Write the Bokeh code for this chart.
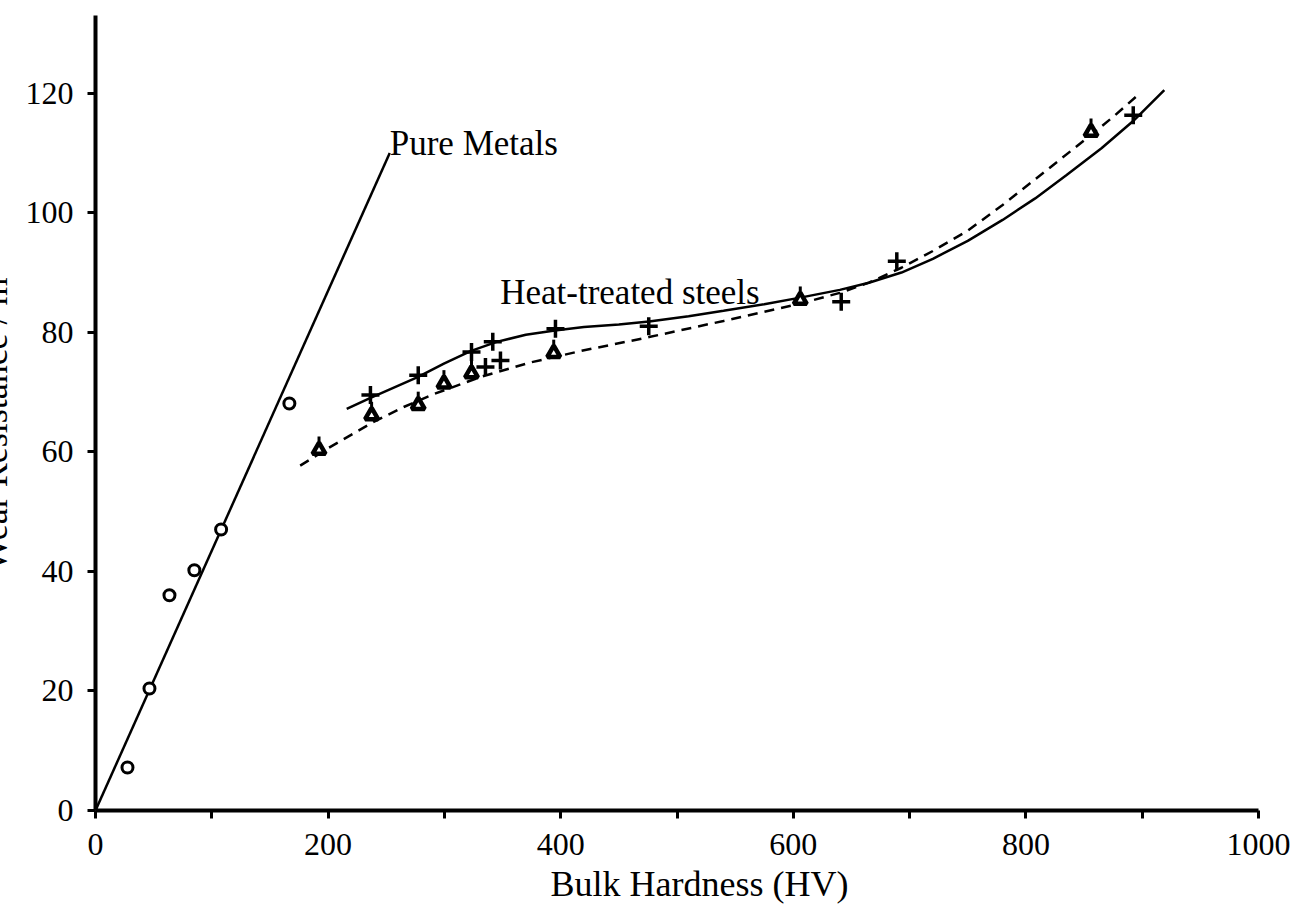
import math
from bokeh.plotting import figure
from bokeh.models import Range1d, Label, FixedTicker
from bokeh.embed import file_html
from bokeh.resources import INLINE

# ---- data ----
metal_x = [27.5, 46.4, 63.6, 85, 108, 166.7]
metal_y = [7.2, 20.4, 36.0, 40.2, 47.0, 68.1]

metal_fit_x = [0, 253]
metal_fit_y = [0, 110]

plus_x = [236.4, 277.5, 323.3, 341.6, 335.3, 348.2, 395.5, 475.7, 641.2, 689, 892.3]
plus_y = [69.5, 72.8, 76.7, 78.4, 74.2, 75.3, 80.6, 81.0, 85.1, 91.9, 116.3]

tri_x = [192.2, 237.4, 277.5, 299.6, 323.3, 394, 606, 856]
tri_y = [60.3, 66.1, 67.8, 71.4, 73.1, 76.5, 85.4, 113.5]

solid_x = [216, 236, 257, 277, 300, 323, 345, 370, 395, 420, 450, 476, 510, 540, 575,
           606, 640, 665, 693, 720, 750, 780, 808, 835, 865, 892, 919]
solid_y = [67.2, 69.0, 70.8, 72.5, 74.8, 76.9, 78.4, 79.6, 80.3, 80.9, 81.3, 81.8, 82.7, 83.6, 84.7,
           85.8, 87.1, 88.3, 90.0, 92.3, 95.3, 98.8, 102.4, 106.3, 110.8, 115.3, 120.5]

dash_x = [176, 200, 238, 265, 290, 332, 375, 418, 476, 540, 606, 640, 665, 693, 720,
          750, 780, 808, 830, 854, 876, 897]
dash_y = [57.7, 60.6, 64.9, 67.5, 69.6, 72.6, 75.0, 76.9, 79.2, 81.9, 84.8, 86.6, 88.3, 90.8, 93.6,
          97.0, 101.3, 105.6, 109.0, 112.7, 116.2, 119.8]

x_ticks = [0, 100, 200, 300, 400, 500, 600, 700, 800, 900, 1000]
x_labels = {0: "0", 200: "200", 400: "400", 600: "600", 800: "800", 1000: "1000"}
y_ticks = [0, 20, 40, 60, 80, 100, 120]

FONT = "Liberation Serif"
SHIFT = 30  # part of the canvas hidden beyond the left page edge

p = figure(width=1306 + SHIFT, height=906, output_backend="svg", toolbar_location=None,
           x_range=Range1d(0, 1000), y_range=Range1d(0, 133),
           min_border_left=95 + SHIFT, min_border_right=48, min_border_top=15,
           min_border_bottom=96, margin=(0, 0, 0, -SHIFT))
p.outline_line_color = None
p.grid.grid_line_color = None
p.background_fill_color = "white"
p.border_fill_color = "white"

for ax in (p.xaxis[0], p.yaxis[0]):
    ax.axis_line_width = 4
    ax.axis_line_color = "black"
    ax.major_tick_line_width = 3
    ax.major_tick_line_color = "black"
    ax.major_tick_out = 8
    ax.major_tick_in = 0
    ax.minor_tick_line_color = None
    ax.major_label_text_font = FONT
    ax.major_label_text_font_size = "32px"
    ax.major_label_text_color = "black"
    ax.axis_label_text_font = FONT
    ax.axis_label_text_font_size = "36px"
    ax.axis_label_text_font_style = "normal"
    ax.axis_label_text_color = "black"

p.xaxis[0].ticker = FixedTicker(ticks=x_ticks)
overrides = {}
for t in x_ticks:
    overrides[t] = x_labels.get(t, "")
p.xaxis[0].major_label_overrides = overrides
p.xaxis[0].major_label_standoff = 15
p.xaxis[0].axis_label = "\u2003\u2005Bulk Hardness (HV)"
p.xaxis[0].axis_label_standoff = 6

p.yaxis[0].ticker = FixedTicker(ticks=y_ticks)
p.yaxis[0].major_label_standoff = 14
p.yaxis[0].axis_label = "Wear Resistance / m\u207b\u00b3"
p.yaxis[0].axis_label_standoff = 8

# lines
p.line(metal_fit_x, metal_fit_y, line_color="black", line_width=2.5)
p.line(solid_x, solid_y, line_color="black", line_width=2.5)
p.line(dash_x, dash_y, line_color="black", line_width=2.5, line_dash="10 7")

# markers
p.scatter(metal_x, metal_y, marker="circle", size=11, line_width=3,
          line_color="black", fill_color="white")
p.scatter(plus_x, plus_y, marker="cross", size=18, line_width=3.5, line_color="black")
p.scatter(tri_x, tri_y, marker="triangle", size=13, line_width=4.5,
          line_color="black", fill_color="white")
stem_y = [v + 1.6 for v in tri_y]
p.scatter(tri_x, stem_y, marker="dash", size=8, angle=math.pi / 2, line_width=3,
          line_color="black")

# annotations
p.add_layout(Label(x=253, y=111.6, text="Pure Metals", text_font=FONT,
                   text_font_size="35px", text_color="black", text_baseline="alphabetic"))
p.add_layout(Label(x=348, y=86.7, text="Heat-treated steels", text_font=FONT,
                   text_font_size="35px", text_color="black", text_baseline="alphabetic"))

open("out.html", "w").write(file_html(p, INLINE))
